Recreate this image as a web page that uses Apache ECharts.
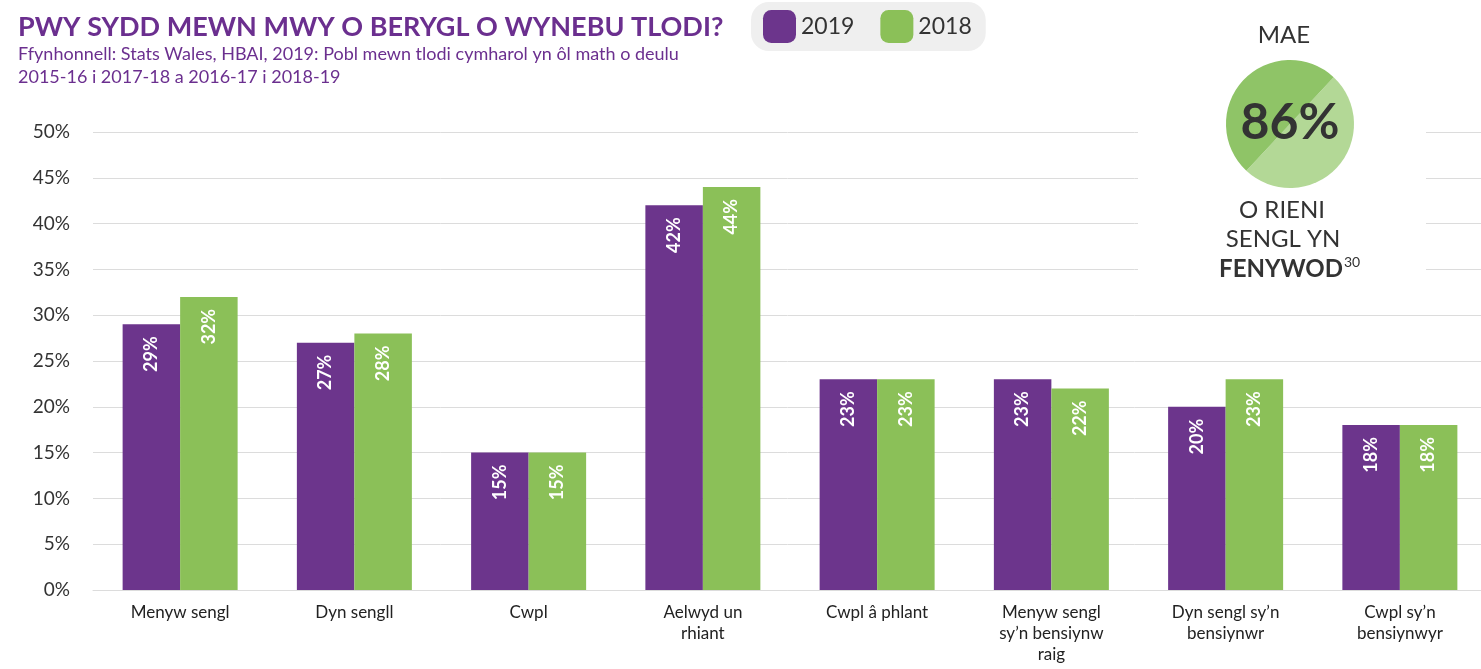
<!DOCTYPE html>
<html>
<head>
<meta charset="utf-8">
<script src="https://cdn.jsdelivr.net/npm/echarts@6/dist/echarts.min.js"></script>
<style>
  html, body { margin: 0; padding: 0; background: #fff; }
  #chart { width: 1481px; height: 669px; }
</style>
</head>
<body>
<div id="chart"></div>
<script>
// data
const categories = [
  'Menyw sengl', 'Dyn sengll', 'Cwpl', 'Aelwyd un\nrhiant', 'Cwpl â phlant',
  'Menyw sengl\nsy’n bensiynw\nraig', 'Dyn sengl sy’n\nbensiynwr', 'Cwpl sy’n\nbensiynwyr'
];
const values2019 = [29, 27, 15, 42, 23, 23, 20, 18];
const values2018 = [32, 28, 15, 44, 23, 22, 23, 18];
const yTicks = [0, 50, 5]; // min, max, step (percent)
const pieSplit = [50, 50]; // decorative halves of the 86% circle

const PURPLE = '#6c358c';
const GREEN = '#8bc058';
const FONT = 'Lato, "Open Sans", sans-serif';

const chart = echarts.init(document.getElementById('chart'));

const barLabel = {
  show: true,
  position: 'insideTop',
  rotate: 90,
  align: 'right',
  verticalAlign: 'middle',
  distance: 12,
  color: '#fff',
  fontSize: 18,
  fontWeight: 'bold',
  fontFamily: FONT,
  formatter: '{c}%'
};

const option = {
  animation: false,
  textStyle: { fontFamily: FONT },
  title: {
    text: 'PWY SYDD MEWN MWY O BERYGL O WYNEBU TLODI?',
    subtext: 'Ffynhonnell: Stats Wales, HBAI, 2019: Pobl mewn tlodi cymharol yn ôl math o deulu\n2015-16 i 2017-18 a 2016-17 i 2018-19',
    left: 13,
    top: 9,
    itemGap: 2,
    textStyle: { color: '#6b2f8f', fontSize: 27, fontWeight: 'bold', fontFamily: FONT },
    subtextStyle: { color: '#6b2f8f', fontSize: 18, lineHeight: 23, fontFamily: FONT }
  },
  legend: {
    left: 751,
    top: 2,
    padding: [8, 14, 8, 12],
    backgroundColor: '#efefef',
    borderRadius: 18,
    icon: 'roundRect',
    itemWidth: 33,
    itemHeight: 33,
    itemGap: 26,
    textStyle: { fontSize: 23, color: '#333', fontFamily: FONT },
    data: ['2019', '2018']
  },
  grid: { left: 93, right: -6, top: 132, bottom: 79, outerBoundsMode: 'none' },
  xAxis: {
    type: 'category',
    data: categories,
    axisLine: { show: true, lineStyle: { color: '#dcdcdc' } },
    axisTick: { show: false },
    axisLabel: {
      color: '#222',
      fontSize: 17,
      lineHeight: 21,
      margin: 12,
      interval: 0,
      fontFamily: FONT
    }
  },
  yAxis: {
    type: 'value',
    min: yTicks[0],
    max: yTicks[1],
    interval: yTicks[2],
    axisLine: { show: false },
    axisTick: { show: false },
    splitLine: { lineStyle: { color: '#dcdcdc', width: 1 } },
    axisLabel: {
      formatter: '{value}%',
      color: '#333',
      fontSize: 19,
      margin: 23,
      fontFamily: FONT
    }
  },
  graphic: [
    // white panel behind the callout, hides the gridlines there
    { type: 'rect', left: 1138, top: 0, z: 5, shape: { width: 288, height: 282 }, style: { fill: '#fff' } },
    { type: 'text', z: 20, x: 1284, y: 35, style: { text: 'MAE', fill: '#333', font: '24px ' + FONT, align: 'center', verticalAlign: 'middle' } },
    { type: 'text', z: 20, x: 1290, y: 123, style: { text: '86%', fill: '#333', font: 'bold 50px ' + FONT, align: 'center', verticalAlign: 'middle' } },
    { type: 'text', z: 20, x: 1282, y: 210, style: { text: 'O RIENI', fill: '#333', font: '24px ' + FONT, align: 'center', verticalAlign: 'middle' } },
    { type: 'text', z: 20, x: 1283, y: 239, style: { text: 'SENGL YN', fill: '#333', font: '24px ' + FONT, align: 'center', verticalAlign: 'middle' } },
    { type: 'text', z: 20, x: 1343, y: 269, style: { text: 'FENYWOD', fill: '#333', font: 'bold 24px ' + FONT, align: 'right', verticalAlign: 'middle' } },
    { type: 'text', z: 20, x: 1344, y: 262, style: { text: '30', fill: '#333', font: '14px ' + FONT, align: 'left', verticalAlign: 'middle' } }
  ],
  series: [
    {
      name: '2019',
      type: 'bar',
      data: values2019,
      itemStyle: { color: PURPLE },
      barGap: '0%',
      barCategoryGap: '34%',
      label: barLabel
    },
    {
      name: '2018',
      type: 'bar',
      data: values2018,
      itemStyle: { color: GREEN },
      barGap: '0%',
      barCategoryGap: '34%',
      label: barLabel
    },
    {
      type: 'pie',
      z: 10,
      center: [1290, 124],
      radius: 64,
      startAngle: 47,
      silent: true,
      label: { show: false },
      labelLine: { show: false },
      itemStyle: { borderWidth: 0 },
      data: [
        { value: pieSplit[0], itemStyle: { color: '#b3d896' } },
        { value: pieSplit[1], itemStyle: { color: '#8fc467' } }
      ]
    }
  ]
};

chart.setOption(option);
</script>
</body>
</html>
